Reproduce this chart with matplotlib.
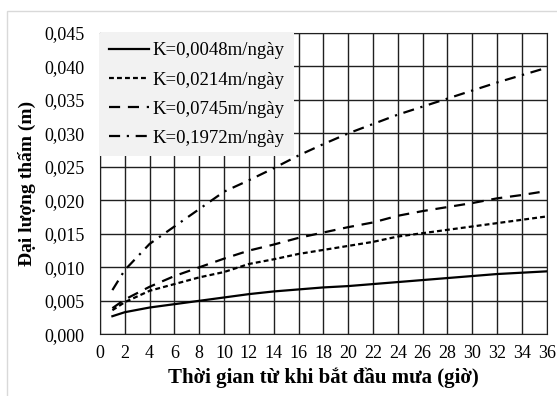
import matplotlib.pyplot as plt
from matplotlib.ticker import FuncFormatter
from matplotlib.patches import Rectangle

plt.rcParams['font.family'] = ['Liberation Serif', 'DejaVu Serif']

t = [1, 2, 4, 6, 8, 10, 12, 14, 16, 18, 20, 22, 24, 26, 28, 30, 32, 34, 36]
k1 = [0.0027, 0.0033, 0.0040, 0.0045, 0.0050, 0.0055, 0.0060, 0.0064, 0.0067, 0.0070, 0.0072,
      0.0075, 0.0078, 0.0081, 0.0084, 0.0087, 0.0090, 0.0092, 0.0094]
k2 = [0.0036, 0.0048, 0.0065, 0.0075, 0.0085, 0.0093, 0.0105, 0.0112, 0.0120, 0.0126, 0.0132,
      0.0138, 0.0146, 0.0151, 0.0156, 0.0161, 0.0166, 0.0171, 0.0176]
k3 = [0.0039, 0.0052, 0.0071, 0.0087, 0.0100, 0.0113, 0.0125, 0.0134, 0.0144, 0.0152, 0.0160,
      0.0167, 0.0177, 0.0184, 0.0190, 0.0196, 0.0203, 0.0208, 0.0214]
k4 = [0.0066, 0.0096, 0.0135, 0.0161, 0.0187, 0.0213, 0.0230, 0.0248, 0.0267, 0.0284, 0.0300,
      0.0314, 0.0328, 0.0340, 0.0352, 0.0364, 0.0376, 0.0387, 0.0398]
labels = ['K=0,0048m/ngày', 'K=0,0214m/ngày', 'K=0,0745m/ngày', 'K=0,1972m/ngày']

fig = plt.figure(figsize=(5.57, 3.96), dpi=100)
ax = fig.add_axes([0.1795, 0.1558, 0.802, 0.761])

fig.patches.append(Rectangle((7 / 557, -0.1), 1.2, 1.1 - 11 / 396, transform=fig.transFigure,
                             fill=False, edgecolor='#d9d9d9', lw=1))

lw = 1.6
ax.plot(t, k1, color='black', lw=lw, linestyle='-', label=labels[0])
ax.plot(t, k2, color='black', lw=lw, linestyle=(0, (2.2, 1.4)), label=labels[1])
ax.plot(t, k3, color='black', lw=lw, linestyle=(0, (5, 3.5)), label=labels[2])
ax.plot(t, k4, color='black', lw=lw, linestyle=(0, (5, 3, 1, 3)), label=labels[3])

ax.set_xlim(0, 36)
ax.set_ylim(0, 0.045)
ax.set_xticks(range(0, 37, 2))
ax.set_yticks([i * 0.005 for i in range(10)])
ax.yaxis.set_major_formatter(FuncFormatter(lambda v, p: f'{v:.3f}'.replace('.', ',')))
ax.tick_params(length=0)
ax.tick_params(axis='y', pad=11, labelsize=13)
ax.tick_params(axis='x', pad=8, labelsize=13)
ax.grid(True, color='#202020', lw=1.0)
ax.set_axisbelow(True)
for s in ax.spines.values():
    s.set_color('#202020')

ax.set_xlabel('Thời gian từ khi bắt đầu mưa (giờ)', fontsize=15, fontweight='bold', labelpad=4)
ax.set_ylabel('Đại lượng thấm (m)', fontsize=14, fontweight='bold', labelpad=6)

leg = ax.legend(loc='upper left', fontsize=13.5, frameon=True, fancybox=False,
                borderaxespad=0, handlelength=2.1, handletextpad=0.2, labelspacing=0.64,
                borderpad=0.5)
leg.get_frame().set_facecolor('#f2f2f2')
leg.get_frame().set_edgecolor('none')
leg.get_frame().set_alpha(1)

fig.savefig('out.png', dpi=100)
